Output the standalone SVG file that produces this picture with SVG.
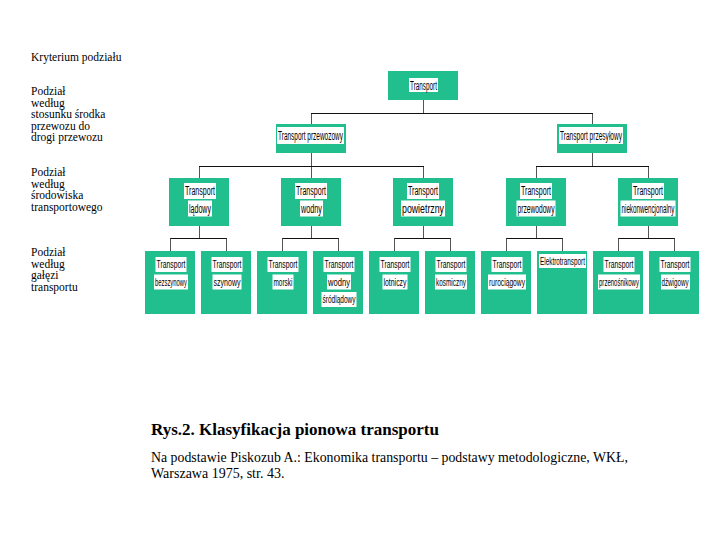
<svg xmlns="http://www.w3.org/2000/svg" width="720" height="540" viewBox="0 0 720 540">
<style>
.box{fill:#21bf8e}
.lb{fill:#ffffff}
.t{font-family:"Liberation Sans",Arial,sans-serif;font-size:12px;fill:#000;text-anchor:middle}
.s{font-size:11.5px}
.k{font-family:"Liberation Serif","Times New Roman",serif;font-size:11.5px;fill:#000}
.cap{font-family:"Liberation Serif","Times New Roman",serif;fill:#000}
.v{stroke:#555;stroke-width:1;fill:none}
.h{stroke:#111;stroke-width:1;fill:none}
</style>
<rect x="0" y="0" width="720" height="540" fill="#ffffff"/>

<g id="criteria">
<text class="k" x="31" y="61">Kryterium podziału</text>
<text class="k" x="31" y="95">Podział</text>
<text class="k" x="31" y="106.5">według</text>
<text class="k" x="31" y="118">stosunku środka</text>
<text class="k" x="31" y="129.5">przewozu do</text>
<text class="k" x="31" y="141">drogi przewozu</text>
<text class="k" x="31" y="176">Podział</text>
<text class="k" x="31" y="187.5">według</text>
<text class="k" x="31" y="199">środowiska</text>
<text class="k" x="31" y="210.5">transportowego</text>
<text class="k" x="31" y="256">Podział</text>
<text class="k" x="31" y="267.5">według</text>
<text class="k" x="31" y="279">gałęzi</text>
<text class="k" x="31" y="290.5">transportu</text>
</g>

<g id="connectors">
<path class="v" d="M423.5 100V113.5M311.5 113.5V124M592.5 113.5V124"/>
<path class="h" d="M311 113.5H593"/>
<path class="v" d="M311.5 153V178M592.5 153V166.5M199.5 166.5V178M423.5 166.5V178M536.5 166.5V178M648.5 166.5V178"/>
<path class="h" d="M199 166.5H424M536 166.5H649"/>
<path class="v" d="M199.5 226V238.5M311.5 226V238.5M423.5 226V238.5M536.5 226V238.5M648.5 226V238.5"/>
<path class="h" d="M170 238.5H227M282 238.5H339M394 238.5H451M506 238.5H563M618 238.5H675"/>
<path class="v" d="M170.5 238.5V251M226.5 238.5V251M282.5 238.5V251M338.5 238.5V251M394.5 238.5V251M450.5 238.5V251M506.5 238.5V251M562.5 238.5V251M618.5 238.5V251M674.5 238.5V251"/>
</g>

<g id="n-transport">
<rect class="box" x="388" y="71" width="70" height="29"/>
<rect class="lb" x="409" y="78" width="29" height="14"/>
<text class="t" x="423.5" y="89.5" textLength="27" lengthAdjust="spacingAndGlyphs">Transport</text>
</g>

<g id="n-przewozowy">
<rect class="box" x="276" y="124" width="70" height="29"/>
<rect class="lb" x="277" y="127" width="67" height="17"/>
<text class="t" x="310.5" y="140" textLength="65" lengthAdjust="spacingAndGlyphs">Transport przewozowy</text>
</g>

<g id="n-przesylowy">
<rect class="box" x="557" y="124" width="70" height="29"/>
<rect class="lb" x="559" y="127" width="64" height="17"/>
<text class="t" x="591" y="140" textLength="62" lengthAdjust="spacingAndGlyphs">Transport przesyłowy</text>
</g>

<g id="n-ladowy">
<rect class="box" x="169" y="178" width="60" height="48"/>
<rect class="lb" x="184" y="183" width="32" height="16"/>
<text class="t" x="200" y="195" textLength="30" lengthAdjust="spacingAndGlyphs">Transport</text>
<rect class="lb" x="188" y="200.5" width="24" height="16"/>
<text class="t" x="200" y="212.5" textLength="22" lengthAdjust="spacingAndGlyphs">lądowy</text>
</g>

<g id="n-wodny">
<rect class="box" x="281" y="178" width="60" height="48"/>
<rect class="lb" x="295" y="183" width="32" height="16"/>
<text class="t" x="311" y="195" textLength="30" lengthAdjust="spacingAndGlyphs">Transport</text>
<rect class="lb" x="300" y="200.5" width="23" height="16"/>
<text class="t" x="311.5" y="212.5" textLength="21" lengthAdjust="spacingAndGlyphs">wodny</text>
</g>

<g id="n-powietrzny">
<rect class="box" x="393" y="178" width="60" height="48"/>
<rect class="lb" x="407" y="183" width="32" height="16"/>
<text class="t" x="423" y="195" textLength="30" lengthAdjust="spacingAndGlyphs">Transport</text>
<rect class="lb" x="401" y="200.5" width="44" height="16"/>
<text class="t" x="423" y="212.5" textLength="42" lengthAdjust="spacingAndGlyphs">powietrzny</text>
</g>

<g id="n-przewodowy">
<rect class="box" x="506" y="178" width="60" height="48"/>
<rect class="lb" x="520" y="183" width="32" height="16"/>
<text class="t" x="536" y="195" textLength="30" lengthAdjust="spacingAndGlyphs">Transport</text>
<rect class="lb" x="516.5" y="200.5" width="39" height="16"/>
<text class="t" x="536" y="212.5" textLength="37" lengthAdjust="spacingAndGlyphs">przewodowy</text>
</g>

<g id="n-niekonwencjonalny">
<rect class="box" x="618" y="178" width="60" height="48"/>
<rect class="lb" x="632" y="183" width="32" height="16"/>
<text class="t" x="648" y="195" textLength="30" lengthAdjust="spacingAndGlyphs">Transport</text>
<rect class="lb" x="620.5" y="200.5" width="55" height="16"/>
<text class="t" x="648" y="212.5" textLength="53" lengthAdjust="spacingAndGlyphs">niekonwencjonalny</text>
</g>

<g id="n-bezszynowy">
<rect class="box" x="145" y="251" width="50" height="63"/>
<rect class="lb" x="155.5" y="257" width="31" height="15"/>
<text class="t s" x="171" y="268" textLength="29" lengthAdjust="spacingAndGlyphs">Transport</text>
<rect class="lb" x="154" y="274.5" width="34" height="15"/>
<text class="t s" x="171" y="285.5" textLength="32" lengthAdjust="spacingAndGlyphs">bezszynowy</text>
</g>

<g id="n-szynowy">
<rect class="box" x="201" y="251" width="50" height="63"/>
<rect class="lb" x="211.5" y="257" width="31" height="15"/>
<text class="t s" x="227" y="268" textLength="29" lengthAdjust="spacingAndGlyphs">Transport</text>
<rect class="lb" x="212.5" y="274.5" width="29" height="15"/>
<text class="t s" x="227" y="285.5" textLength="27" lengthAdjust="spacingAndGlyphs">szynowy</text>
</g>

<g id="n-morski">
<rect class="box" x="257" y="251" width="50" height="63"/>
<rect class="lb" x="267.5" y="257" width="31" height="15"/>
<text class="t s" x="283" y="268" textLength="29" lengthAdjust="spacingAndGlyphs">Transport</text>
<rect class="lb" x="272.5" y="274.5" width="21" height="15"/>
<text class="t s" x="283" y="285.5" textLength="19" lengthAdjust="spacingAndGlyphs">morski</text>
</g>

<g id="n-srodladowy">
<rect class="box" x="313" y="251" width="50" height="63"/>
<rect class="lb" x="323.5" y="257" width="31" height="15"/>
<text class="t s" x="339" y="268" textLength="29" lengthAdjust="spacingAndGlyphs">Transport</text>
<rect class="lb" x="327" y="274.5" width="24" height="15"/>
<text class="t s" x="339" y="285.5" textLength="22" lengthAdjust="spacingAndGlyphs">wodny</text>
<rect class="lb" x="321.5" y="292" width="35" height="15"/>
<text class="t s" x="339" y="303" textLength="33" lengthAdjust="spacingAndGlyphs">śródlądowy</text>
</g>

<g id="n-lotniczy">
<rect class="box" x="369" y="251" width="50" height="63"/>
<rect class="lb" x="379.5" y="257" width="31" height="15"/>
<text class="t s" x="395" y="268" textLength="29" lengthAdjust="spacingAndGlyphs">Transport</text>
<rect class="lb" x="382.5" y="274.5" width="25" height="15"/>
<text class="t s" x="395" y="285.5" textLength="23" lengthAdjust="spacingAndGlyphs">lotniczy</text>
</g>

<g id="n-kosmiczny">
<rect class="box" x="425" y="251" width="50" height="63"/>
<rect class="lb" x="435.5" y="257" width="31" height="15"/>
<text class="t s" x="451" y="268" textLength="29" lengthAdjust="spacingAndGlyphs">Transport</text>
<rect class="lb" x="435" y="274.5" width="32" height="15"/>
<text class="t s" x="451" y="285.5" textLength="30" lengthAdjust="spacingAndGlyphs">kosmiczny</text>
</g>

<g id="n-rurociagowy">
<rect class="box" x="481" y="251" width="50" height="63"/>
<rect class="lb" x="491.5" y="257" width="31" height="15"/>
<text class="t s" x="507" y="268" textLength="29" lengthAdjust="spacingAndGlyphs">Transport</text>
<rect class="lb" x="488" y="274.5" width="38" height="15"/>
<text class="t s" x="507" y="285.5" textLength="36" lengthAdjust="spacingAndGlyphs">rurociągowy</text>
</g>

<g id="n-elektrotransport">
<rect class="box" x="537" y="251" width="50" height="63"/>
<rect class="lb" x="539" y="254" width="47" height="14"/>
<text class="t s" x="562.5" y="265" textLength="45" lengthAdjust="spacingAndGlyphs">Elektrotransport</text>
</g>

<g id="n-przenosnikowy">
<rect class="box" x="593" y="251" width="50" height="63"/>
<rect class="lb" x="603.5" y="257" width="31" height="15"/>
<text class="t s" x="619" y="268" textLength="29" lengthAdjust="spacingAndGlyphs">Transport</text>
<rect class="lb" x="598" y="274.5" width="42" height="15"/>
<text class="t s" x="619" y="285.5" textLength="40" lengthAdjust="spacingAndGlyphs">przenośnikowy</text>
</g>

<g id="n-dzwigowy">
<rect class="box" x="649" y="251" width="50" height="63"/>
<rect class="lb" x="659.5" y="257" width="31" height="15"/>
<text class="t s" x="675" y="268" textLength="29" lengthAdjust="spacingAndGlyphs">Transport</text>
<rect class="lb" x="661" y="274.5" width="29" height="15"/>
<text class="t s" x="675" y="285.5" textLength="27" lengthAdjust="spacingAndGlyphs">dźwigowy</text>
</g>

<g id="caption">
<text class="cap" x="151" y="435" font-size="17" font-weight="bold">Rys.2. Klasyfikacja pionowa transportu</text>
<text class="cap" x="151" y="462" font-size="14" textLength="477" lengthAdjust="spacingAndGlyphs">Na podstawie Piskozub A.: Ekonomika transportu – podstawy metodologiczne, WKŁ,</text>
<text class="cap" x="151" y="478" font-size="14">Warszawa 1975, str. 43.</text>
</g>
</svg>
